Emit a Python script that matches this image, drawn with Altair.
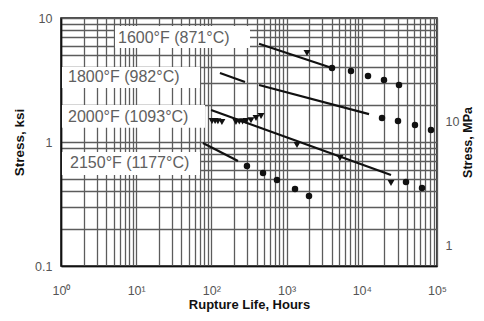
import altair as alt
import pandas as pd

# ---- data ----
# fitted stress-rupture lines (two end points per segment)
line_seg = ["1600", "1600", "1800a", "1800a", "1800b", "1800b", "2000", "2000", "2150", "2150"]
line_hours = [430, 4015, 130, 280, 430, 12470, 99, 24450, 77, 226]
line_ksi = [6.2, 3.95, 3.6, 3.05, 2.88, 1.68, 1.81, 0.542, 0.98, 0.703]

# round test points
dot_hours = [4015, 7180, 12090, 19730, 31250,
             18570, 30300, 50960, 83200,
             38700, 63200,
             297, 486, 745, 1294, 1986]
dot_ksi = [3.95, 3.74, 3.41, 3.16, 2.88,
           1.56, 1.48, 1.37, 1.25,
           0.476, 0.426,
           0.64, 0.562, 0.494, 0.418, 0.367]

# triangular test points
tri_hours = [1867, 102, 112, 122, 138, 212, 235, 260, 288, 336, 392, 457, 1375, 5130, 24450]
tri_ksi = [5.22, 1.48, 1.48, 1.47, 1.45, 1.45, 1.46, 1.46, 1.48, 1.50, 1.56, 1.62, 0.946, 0.743, 0.467]

# temperature labels (boxes in data units)
labels = ["1600°F (871°C)", "1800°F (982°C)", "2000°F (1093°C)", "2150°F (1177°C)"]
box_h1 = [5.23, 1.03, 1.03, 1.03]
box_h2 = [326, 70.5, 82.2, 70.5]
box_k1 = [8.62, 4.03, 1.99, 0.83]
box_k2 = [5.73, 2.73, 1.30, 0.542]
txt_h = [5.73, 1.24, 1.24, 1.32]
txt_k = [6.9, 3.34, 1.59, 0.677]

# axis ticks
x_grid = [round(m * 10 ** e, 6) for e in range(0, 5) for m in range(1, 10)] + [100000]
y_grid = [round(m * 10 ** e, 6) for e in (-1, 0) for m in range(1, 10)] + [10]
mpa_ticks = [1, 10]
KSI_TO_MPA = 6.895

lines_df = pd.DataFrame({"seg": line_seg, "hours": line_hours, "ksi": line_ksi})
dots_df = pd.DataFrame({"hours": dot_hours, "ksi": dot_ksi})
tri_df = pd.DataFrame({"hours": tri_hours, "ksi": tri_ksi})
lab_df = pd.DataFrame({"label": labels, "h1": box_h1, "h2": box_h2, "k1": box_k1,
                       "k2": box_k2, "th": txt_h, "tk": txt_k})
mpa_df = pd.DataFrame({"hours": [1, 1], "mpa": mpa_ticks})

xscale = alt.Scale(type="log", domain=[1, 100000], nice=False)
yscale = alt.Scale(type="log", domain=[0.1, 10], nice=False)

x_label_expr = ("abs(log(datum.value)/LN10 - round(log(datum.value)/LN10)) < 1e-6 ? "
                "'10' + ['⁰','¹','²','³','⁴','⁵'][round(log(datum.value)/LN10)] : ''")
y_label_expr = ("datum.value == 0.1 ? '0.1' : datum.value == 1 ? '1' : "
                "datum.value == 10 ? '10' : ''")

GRID = "#5c5c5c"
x_axis = alt.Axis(values=x_grid, labelExpr=x_label_expr, tickSize=0, labelPadding=18,
                  grid=True, gridColor=GRID, gridWidth=1.3,
                  domainColor="#111", domainWidth=1.6, labelOverlap=False,
                  labelFlush=False, title="Rupture Life, Hours", titlePadding=2,
                  titleFontSize=13)
y_axis = alt.Axis(values=y_grid, labelExpr=y_label_expr, tickSize=0, labelPadding=9,
                  grid=True, gridColor=GRID, gridWidth=1.3,
                  domainColor="#111", domainWidth=1.6, labelOverlap=False,
                  labelFlush=False, title="Stress, ksi", titlePadding=8)

X = alt.X("hours:Q", scale=xscale, axis=x_axis)
Y = alt.Y("ksi:Q", scale=yscale, axis=y_axis)

boxes = alt.Chart(lab_df).mark_rect(color="white", opacity=1).encode(
    x=alt.X("h1:Q", scale=xscale, axis=x_axis), x2="h2:Q",
    y=alt.Y("k1:Q", scale=yscale, axis=y_axis), y2="k2:Q")

texts = alt.Chart(lab_df).mark_text(
    align="left", baseline="middle", font="Liberation Sans", fontSize=16, color="#606060"
).encode(x=alt.X("th:Q", scale=xscale, axis=x_axis),
         y=alt.Y("tk:Q", scale=yscale, axis=y_axis), text="label:N")

lines = alt.Chart(lines_df).mark_line(color="#111", strokeWidth=2.2).encode(
    x=X, y=Y, detail="seg:N")

dots = alt.Chart(dots_df).mark_point(shape="circle", filled=True, color="#111",
                                     size=42, opacity=1).encode(x=X, y=Y)

tris = alt.Chart(tri_df).mark_point(shape="triangle-down", filled=True, color="#111",
                                    size=48, opacity=1).encode(x=X, y=Y)

main = alt.layer(boxes, texts, lines, dots, tris)

mpa_layer = alt.Chart(mpa_df).mark_point(opacity=0).encode(
    x=X,
    y=alt.Y("mpa:Q",
            scale=alt.Scale(type="log", domain=[0.1 * KSI_TO_MPA, 10 * KSI_TO_MPA], nice=False),
            axis=alt.Axis(orient="right", values=mpa_ticks, format="~g", tickSize=0,
                          labelPadding=8, grid=False, domain=False, labelFlush=False,
                          title="Stress, MPa", titleAngle=-90, titleBaseline="top",
                          titlePadding=3, titleFontSize=12.5)))

chart = alt.layer(main, mpa_layer).resolve_scale(y="independent").properties(
    width=376, height=248,
    autosize=alt.AutoSizeParams(type="none"),
    padding={"left": 53, "top": 10, "right": 39, "bottom": 47},
).configure_view(stroke="#111", strokeWidth=1.6).configure_axis(
    labelFont="Liberation Sans", labelColor="#555", labelFontSize=12.5,
    titleFont="Liberation Sans", titleFontWeight="bold", titleFontSize=13.5,
    titleColor="#111")

chart.save("out.html", embed_options={"renderer": "svg", "actions": False})
